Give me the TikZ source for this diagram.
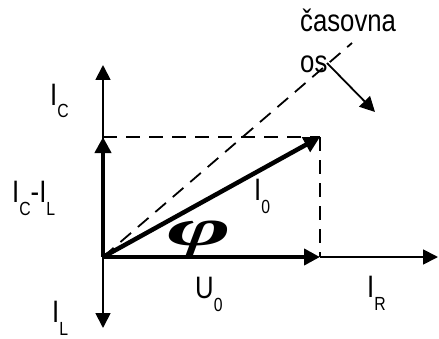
\documentclass[tikz,border=0pt]{standalone}
\usepackage{amsmath}
\usepackage{fontspec}
\setmainfont[FakeStretch=0.83]{Liberation Sans}
\newfontfamily\phifont{Liberation Serif}
\usetikzlibrary{arrows.meta}
\newcommand{\idx}[1]{\raisebox{-13pt}{\fontsize{19}{19}\selectfont #1}}

\begin{document}
\begin{tikzpicture}[x=1pt, y=1pt,
        axis/.style={-{Triangle[length=15pt, width=15pt]}, line width=1.8pt},
        phasor/.style={-{Triangle[length=16pt, width=16pt]}, line width=4.5pt},
        guide/.style={dash pattern=on 14pt off 9pt, line width=1.8pt},
        lbl/.style={inner sep=0pt, anchor=base west, font=\fontsize{31}{41}\selectfont}
    ]
        \useasboundingbox (0,0) rectangle (439,338);

        \coordinate (O) at (103,81);
        \coordinate (topaxis) at (103,273);
        \coordinate (botaxis) at (103,10);
        \coordinate (rightaxis) at (438,81);
        \coordinate (icl) at (103,201);
        \coordinate (u0) at (320,81);
        \coordinate (i0) at (320,201);
        \coordinate (timeend) at (352,295);
        \coordinate (rotstart) at (327,275);
        \coordinate (rotend) at (375,226);

        % guide lines
        \draw[guide] (O) -- (timeend);
        \draw[guide] (icl) -- (i0);
        \draw[guide] (i0) -- (u0);

        % axes
        \draw[axis] (O) -- (topaxis);
        \draw[axis] (O) -- (botaxis);
        \draw[axis] (u0) -- (rightaxis);
        \draw[axis] (rotstart) -- (rotend);

        % phasors
        \draw[phasor] (O) -- (icl);
        \draw[phasor] (O) -- (u0);
        \draw[phasor] (O) -- (i0);

        \node[lbl] (lic) at (50,233) {I\idx{C}};
        \node[lbl] (licl) at (12,136) {I\idx{C}-I\idx{L}};
        \node[lbl] (lil) at (52,16) {I\idx{L}};
        \node[lbl] (lu0) at (195,40) {U\idx{0}};
        \node[lbl] (lir) at (367,41) {I\idx{R}};
        \node[lbl] (li0) at (254,138) {I\idx{0}};
        \node[lbl, align=left] (time) at (300,265) {časovna\\os};
        \node[inner sep=0pt] (phi) at (199,99) {\scalebox{2.1}[1]{\phifont\bfseries\itshape\fontsize{52}{52}\selectfont φ}};
    \end{tikzpicture}
\end{document}
